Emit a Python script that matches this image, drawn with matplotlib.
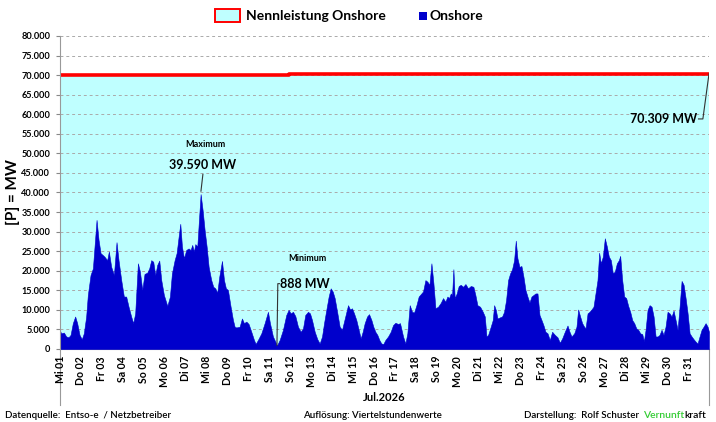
import matplotlib
matplotlib.use("Agg")
import matplotlib.pyplot as plt
from matplotlib.patches import Rectangle

plt.rcParams['font.family'] = ['Lato', 'DejaVu Sans']

# ---- data (hours since 01.07.2026 00:00, MW) ----
hours = [0, 1.3, 4.4, 7.1, 9.8, 12.1, 14.7, 17.4, 19.7, 22.4, 25.0, 27.3, 30.0, 31.9, 35.0, 37.7,
         39.6, 41.9, 44.2, 46.5, 49.1, 51.0, 54.1, 56.0, 58.7, 61.8, 64.8, 67.1, 70.2, 73.2, 75.9,
         78.6, 81.6, 83.9, 86.2, 89.3, 91.6, 94.3, 96.9, 100.0, 102.3, 104.6, 106.9, 109.2, 111.5,
         113.8, 116.1, 119.1, 123.0, 126.0, 128.3, 131.4, 133.7, 136.0, 137.9, 139.8, 142.1, 144.7,
         147.4, 149.7, 151.6, 153.5, 155.1, 157.4, 159.3, 161.2, 163.5, 165.8, 168.1, 170.4, 173.4,
         175.7, 178.0, 180.3, 182.6, 185.7, 188.0, 190.2, 192.5, 195.6, 198.3, 200.2,
         202.1, 205.9, 208.6, 210.9, 213.6, 216.2, 219.3, 222.4, 224.3, 226.9, 230.8, 234.6, 238.4,
         240.7, 244.1, 246.8, 248.7, 251.8, 255.6, 259.4, 262.1, 264.4, 267.1, 269.8, 272.8, 275.9,
         278.6, 281.2, 284.3, 286.6, 288.9, 292.0, 295.0, 297.7, 300.4, 302.7, 305.3, 308.0, 310.3,
         312.6, 314.9, 318.0, 320.6, 323.3, 325.6, 327.9, 330.2, 332.5, 334.8, 337.1, 339.7, 342.4,
         344.7, 347.0, 349.3, 352.0, 354.3, 357.0, 359.2, 361.5, 363.8, 366.1, 368.4, 370.7, 373.0,
         376.1, 379.1, 381.8, 384.5, 387.5, 389.8,
         393.3, 395.9, 398.2, 400.9, 403.6, 405.9, 408.6, 411.2, 413.5, 416.2, 418.9, 421.2, 423.5,
         425.8, 428.1, 430.4, 433.4, 436.5, 439.1, 441.8, 444.1, 446.0, 448.0, 449.5, 451.0, 452.5,
         454.8, 457.1, 459.4, 462.1, 464.8, 467.8, 470.9, 473.9, 476.2, 478.5, 481.6, 484.7, 487.0,
         488.9, 490.8, 493.8, 496.1, 497.7, 499.6, 501.5, 504.5, 506.8, 509.1, 511.4, 513.7, 516.0,
         518.3, 520.6, 522.5, 524.4, 526.7, 529.0, 531.3, 533.6, 535.9, 538.2, 540.5, 542.8, 545.1,
         547.4, 549.7, 552.0, 554.2, 556.5,
         558.9, 561.5, 564.2, 567.3, 570.3, 573.0, 575.7, 578.7, 581.8, 584.1, 586.4, 589.5, 592.1,
         594.0, 596.3, 598.6, 600.9, 602.5, 604.8, 607.0, 609.3, 611.6, 613.9, 616.2, 618.1, 620.0,
         622.3, 624.6, 626.9, 629.2, 631.5, 633.8, 636.1, 638.4, 640.7, 642.2, 644.5, 646.8, 649.1,
         651.4, 653.7, 656.0, 658.3, 660.6, 662.9, 665.2, 667.5, 669.4, 671.3, 673.6, 675.9, 678.2,
         680.5, 682.8, 685.1, 687.3, 689.6, 691.9, 694.2, 696.5, 698.8, 701.1, 703.4, 705.7, 708.0,
         710.3, 712.6, 714.9, 717.2, 719.5, 721.8, 724.1, 726.4, 728.6, 730.9, 733.2, 735.5, 737.8,
         740.1, 742.4, 744.0]

onshore = [4700, 4000, 4200, 3200, 3000, 3600, 6600, 8300, 6600, 3600, 2500, 4000, 8300, 13800, 18900, 20600,
           26200, 33000, 27900, 24500, 24000, 23600, 22700, 24900, 21000, 18900, 27300, 22700, 17600, 13400, 13400,
           10800, 8300, 6600, 9100, 21900, 19800, 15100, 19200, 19500, 20600, 22700, 22300, 18900, 21500,
           22600, 17600, 13800, 11000, 13400, 19300, 22700, 24500, 28700, 32000, 26200, 23200, 25300,
           25700, 25300, 26600, 24900, 26800, 26200, 33000, 39590, 35500, 30400, 26200, 21000, 17600,
           15900, 15500, 14400, 18500, 22500, 17600, 15500, 15100, 10800, 7400, 5700,
           5500, 5700, 7800, 6600, 7000, 6400, 4400, 2300, 1300, 2300, 4000, 6600, 9500,
           6600, 3200, 1900, 888, 2300, 4900, 8700, 10000, 9100, 9500, 8400, 5700, 4400,
           5300, 8700, 9500, 9100, 7400, 4400, 2500, 1400, 3200, 6600, 10000, 13400, 15500,
           14700, 13000, 9100, 5700, 4900, 7000, 9100, 11200, 10100, 10400, 9100, 7400, 4900,
           2700, 4400, 6600, 8300, 8900, 7400, 5700, 4400, 3600, 2300, 1400, 1300, 2300,
           3200, 4400, 6100, 6700, 6400, 6600,
           3200, 1400, 4000, 11200, 9500, 9300, 11200, 13400, 14000, 14700, 17600, 17200, 16400,
           21900, 16800, 10400, 10800, 11800, 13000, 12100, 13400, 13000, 14200, 13800, 20400, 13000,
           14200, 16100, 16400, 15900, 16600, 15500, 16100, 15900, 13800, 11200, 10800, 9500, 8300,
           3200, 3600, 5700, 7400, 11200, 10000, 7800, 8100, 8300, 9500, 12500, 17600, 19300,
           20400, 22700, 27700, 23200, 21000, 21200, 18500, 15100, 13400, 11900, 13400, 13800, 14200,
           14200, 8700, 7400, 6100, 4400,
           4000, 2300, 4400, 3600, 3000, 1600, 2700, 4400, 6000, 4400, 3200, 4000, 5700,
           10100, 8300, 6600, 5700, 5300, 9100, 9500, 10100, 10800, 14200, 17600, 24600, 21900,
           23600, 28300, 26200, 23600, 22700, 19300, 19800, 21900, 22700, 23800, 17600, 13400, 13000,
           11000, 9500, 7400, 6600, 5300, 4900, 4000, 3800, 2000, 4900, 10000, 11200, 10800,
           8300, 3200, 3200, 3600, 4900, 3600, 5700, 9500, 9100, 8300, 9800, 7400, 4900,
           10800, 17400, 16400, 13000, 9100, 4000, 3200, 2500, 1900, 1400, 3200, 4900, 5700,
           6600, 5700, 4400]

nenn_hours = [0, 263, 503, 744]
nenn_mw = [70140, 70225, 70309, 70309]

day_labels = ["Mi 01", "Do 02", "Fr 03", "Sa 04", "So 05", "Mo 06", "Di 07", "Mi 08", "Do 09",
              "Fr 10", "Sa 11", "So 12", "Mo 13", "Di 14", "Mi 15", "Do 16", "Fr 17", "Sa 18",
              "So 19", "Mo 20", "Di 21", "Mi 22", "Do 23", "Fr 24", "Sa 25", "So 26", "Mo 27",
              "Di 28", "Mi 29", "Do 30", "Fr 31"]
y_ticks = list(range(0, 80001, 5000))
legend_labels = ["Nennleistung Onshore", "Onshore"]

max_idx = onshore.index(max(onshore))
min_idx = onshore.index(min(onshore))

BLUE = '#0000CC'
CYAN = '#BFFFFF'
W, H = 716, 422

# ---- figure ----
fig = plt.figure(figsize=(7.16, 4.22), dpi=100)
ax = fig.add_axes([0.0838, 0.173, 0.9064, 0.7417])

ax.fill_between(nenn_hours, 0, nenn_mw, step='post', color=CYAN, lw=0, zorder=1)
ax.step(nenn_hours, nenn_mw, where='post', color='#FF0000', lw=2.6, zorder=4)
ax.fill_between(hours, 0, onshore, color=BLUE, lw=0.4, edgecolor=BLUE, zorder=3)

ax.set_xlim(0, 744)
ax.set_ylim(0, 80000)
ax.set_yticks(y_ticks)
ax.set_yticklabels([f"{v:,}".replace(",", ".") for v in y_ticks], fontsize=6.6, fontweight='bold')
ax.set_xticks([24 * i for i in range(len(day_labels))])
ax.set_xticklabels(day_labels, rotation=90, fontsize=7.6, fontweight='bold', va='top', ha='center')
ax.tick_params(axis='x', length=0, pad=5)
ax.tick_params(axis='y', length=3, pad=4, color='#888888')
ax.grid(axis='y', linestyle=(0, (3, 3)), color='#AAAAAA', lw=0.7, zorder=2)
ax.set_axisbelow(False)
for s in ['top', 'right']:
    ax.spines[s].set_visible(False)
ax.spines['left'].set_color('#999999')
ax.spines['bottom'].set_color('#999999')
ax.spines['left'].set_zorder(5)

# long category-axis lines below plot
ax.plot([0, 0], [0, -0.18], transform=ax.transAxes, color='#999999', lw=0.8, clip_on=False)
ax.plot([1, 1], [0, -0.18], transform=ax.transAxes, color='#999999', lw=0.8, clip_on=False)

ax.set_ylabel("[P] = MW", fontsize=11, fontweight='bold')
ax.yaxis.set_label_coords(-0.061, 0.5)
ax.text(0.5, -0.155, "Jul.2026", transform=ax.transAxes, ha='center', va='center',
        fontsize=8, fontweight='bold')

# Annotations
xm, ym = hours[max_idx], onshore[max_idx]
ax.annotate("", xy=(xm, ym), xytext=(xm + 3, ym + 5800),
            arrowprops=dict(arrowstyle='-', color='#333333', lw=0.8))
ax.text(xm + 2, ym + 5900, f"{ym:,} MW".replace(",", "."), ha='center', va='bottom',
        fontsize=9, fontweight='bold')
ax.text(xm + 6, ym + 11500, "Maximum", ha='center', va='bottom', fontsize=6.5, fontweight='bold')

xn, yn = hours[min_idx], onshore[min_idx]
ax.plot([xn, xn + 1, xn + 3], [yn, 16700, 16700], color='#333333', lw=0.8, zorder=6)
ax.text(xn + 4, 16700, f"{yn} MW", ha='left', va='center', fontsize=9, fontweight='bold')
ax.text(xn + 35, 23200, "Minimum", ha='center', va='center', fontsize=6.5, fontweight='bold')

xe, ye = nenn_hours[-1], nenn_mw[-1]
ax.plot([xe, xe - 7, xe - 12], [ye, 58800, 58800], color='#333333', lw=0.8, zorder=6)
ax.text(xe - 14, 58800, f"{ye:,} MW".replace(",", "."), ha='right', va='center',
        fontsize=9, fontweight='bold')

# Legend (drawn manually to match the reference layout)
fig.patches.append(Rectangle((215 / W, 1 - 22 / H), 25 / W, 13 / H, transform=fig.transFigure,
                             facecolor=CYAN, edgecolor='#FF0000', lw=1.4, figure=fig))
fig.text(246 / W, 1 - 15.5 / H, legend_labels[0], fontsize=10, fontweight='bold',
         ha='left', va='center')
fig.patches.append(Rectangle((419 / W, 1 - 19.5 / H), 8 / W, 8 / H, transform=fig.transFigure,
                             facecolor=BLUE, edgecolor=BLUE, lw=0, figure=fig))
fig.text(430 / W, 1 - 15.5 / H, legend_labels[1], fontsize=10, fontweight='bold',
         ha='left', va='center')

# Footer
fy = 0.016
fig.text(0.007, fy, "Datenquelle:  Entso-e  / Netzbetreiber", fontsize=7, ha='left', va='center',
         fontweight='semibold')
fig.text(0.52, fy, "Auflösung: Viertelstundenwerte", fontsize=7, ha='center', va='center',
         fontweight='semibold')
fig.text(0.732, fy, "Darstellung:  Rolf Schuster", fontsize=7, ha='left', va='center',
         fontweight='semibold')
t1 = fig.text(0.898, fy, "Vernunft", fontsize=7.5, ha='left', va='center', color='#33CC33',
              fontweight='semibold')
renderer = fig.canvas.get_renderer()
bb = t1.get_window_extent(renderer=renderer)
fig.text((bb.x1 + 0.5) / W, fy, "kraft", fontsize=7.5, ha='left', va='center', color='black',
         fontweight='semibold')

fig.savefig("out.png", dpi=100)
